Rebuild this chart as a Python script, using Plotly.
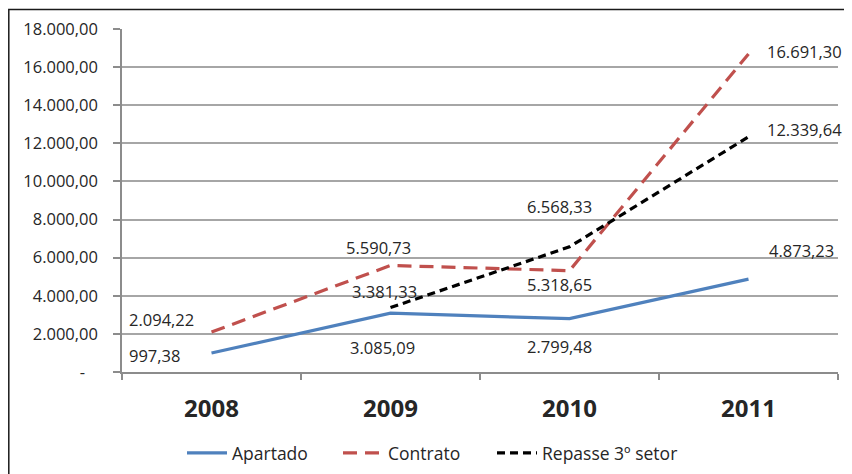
import plotly.graph_objects as go

years = ["2008", "2009", "2010", "2011"]
apartado = [997.38, 3085.09, 2799.48, 4873.23]
contrato = [2094.22, 5590.73, 5318.65, 16691.30]
repasse = [None, 3381.33, 6568.33, 12339.64]

y_tickvals = [0, 2000, 4000, 6000, 8000, 10000, 12000, 14000, 16000, 18000]
y_ticktext = ["-\u00a0\u00a0\u00a0", "2.000,00", "4.000,00", "6.000,00", "8.000,00", "10.000,00",
              "12.000,00", "14.000,00", "16.000,00", "18.000,00"]


def fmt(v):
    s = f"{v:,.2f}"
    return s.replace(",", "X").replace(".", ",").replace("X", ".")


# label offsets (pixels) per series / point
off_apartado = [(-57, -3), (-8, -34), (-10, -28), (53, 29)]
off_contrato = [(-50, 13), (-12, 18), (-10, -14), (56, 2)]
off_repasse = [None, (-6, 16), (-10, 40), (56, 7)]

FONT = "Open Sans"
TXT = "#262626"

fig = go.Figure()
fig.add_trace(go.Scatter(x=years, y=apartado, name="Apartado", mode="lines", legend="legend",
                         line=dict(color="#4f81bd", width=3.2)))
fig.add_trace(go.Scatter(x=years, y=contrato, name="Contrato", mode="lines", legend="legend2",
                         line=dict(color="#c0504d", width=3.2, dash="14px,8px")))
fig.add_trace(go.Scatter(x=years, y=repasse, name="Repasse 3º setor", mode="lines", legend="legend3",
                         line=dict(color="#000000", width=3.2, dash="8px,5px")))

annotations = []
for vals, offs in ((apartado, off_apartado), (contrato, off_contrato), (repasse, off_repasse)):
    for i, (v, o) in enumerate(zip(vals, offs)):
        if v is None or o is None:
            continue
        annotations.append(dict(x=i, y=v, xref="x", yref="y", text=fmt(v), showarrow=False,
                                xshift=o[0], yshift=o[1],
                                font=dict(family=FONT, size=16.5, color=TXT)))

# page is offset by the 8px body margin
OFF = 8
W, H = 852 - OFF, 474 - OFF
L, R, T, B = 122, 838, 29, 372  # plot area in page pixels


def px_x(p):
    return (p - L) / (R - L)


def px_y(p):
    return (B - p) / (B - T)


def leg(xpage):
    return dict(orientation="h", x=px_x(xpage), xanchor="left", y=px_y(453), yanchor="middle",
                font=dict(family=FONT, size=17.5, color=TXT), bgcolor="rgba(0,0,0,0)",
                itemwidth=40, tracegroupgap=0)


fig.update_layout(
    width=W, height=H,
    margin=dict(l=L - OFF, r=852 - R, t=T - OFF, b=474 - B, pad=0, autoexpand=False),
    paper_bgcolor="white", plot_bgcolor="white",
    font=dict(family=FONT, color=TXT),
    showlegend=True,
    legend=leg(182), legend2=leg(338), legend3=leg(492),
    annotations=annotations,
    shapes=[dict(type="rect", xref="paper", yref="paper",
                 x0=px_x(8.8), x1=px_x(851), y0=px_y(9.5), y1=px_y(490),
                 line=dict(color="#1a1a1a", width=1.5), fillcolor="rgba(0,0,0,0)", layer="below")],
)

fig.update_xaxes(type="category", range=[-0.5, 3.5], showgrid=False,
                 showline=True, linecolor="#8c8c8c", linewidth=1.5,
                 ticks="outside", ticklen=6, tickcolor="#8c8c8c", tickwidth=1.5,
                 tickson="boundaries", ticklabelstandoff=14,
                 tickfont=dict(family=FONT, size=24, color=TXT, weight="bold"))
fig.update_yaxes(range=[0, 18000], tickvals=y_tickvals, ticktext=y_ticktext,
                 showgrid=True, gridcolor="#a6a6a6", gridwidth=1.5,
                 showline=True, linecolor="#8c8c8c", linewidth=1.5,
                 ticks="outside", ticklen=7, tickcolor="#8c8c8c", tickwidth=1.5,
                 ticklabelstandoff=12, zeroline=False,
                 tickfont=dict(family=FONT, size=16.5, color=TXT))

fig.write_html("out.html")
